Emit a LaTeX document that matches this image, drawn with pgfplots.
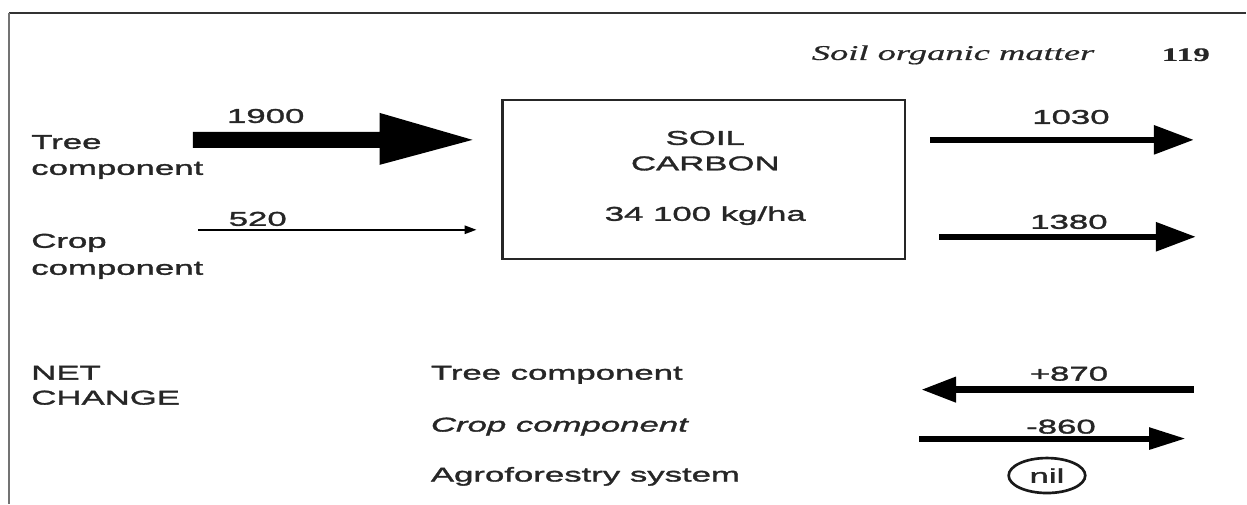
\documentclass[border=0pt]{standalone}
\usepackage{fontspec}
\setmainfont{Liberation Sans}[FakeStretch=1.74,FakeBold=1.6]
\newfontfamily\hdrfont{Liberation Serif}[FakeStretch=1.74,FakeBold=0.6]
\usepackage{pgfplots}
\pgfplotsset{compat=1.18}
\usetikzlibrary{arrows.meta,shapes.geometric}
\tikzset{lbl/.style={font=\fontsize{12}{14}\selectfont, text=black!85, inner sep=0pt}}

\begin{document}
\begin{tikzpicture}
\begin{axis}[
  width=748.2pt, height=302.4pt, scale only axis,
  xmin=0, xmax=1247, ymin=0, ymax=504, y dir=reverse,
  hide axis, clip=false, no marks,
]
% invisible corners to fix the bounding box
\addplot[draw=none] coordinates {(0,0) (1247,504)};

% frame
\addplot[black!80, line width=1.5pt] coordinates {(9,13) (1247,13)};
\addplot[black!55, line width=1.2pt] coordinates {(9,13) (9,504)};

% header
\node[lbl, anchor=base, font=\hdrfont\itshape\fontsize{12.6}{14}\selectfont] at (axis cs:954,60) {Soil organic matter};
\node[lbl, anchor=base, font=\hdrfont\bfseries\fontsize{11.5}{14}\selectfont] at (axis cs:1187,61) {119};

% soil carbon box
\addplot[black!85, line width=1.3pt] coordinates {(503,100) (906,100) (906,259) (503,259)} --cycle;
\node[lbl, anchor=base] at (axis cs:706,145) {SOIL};
\node[lbl, anchor=base] at (axis cs:706,170.5) {CARBON};
\node[lbl, anchor=base] at (axis cs:706,221) {34 100 kg/ha};

% inputs
\node[lbl, anchor=base west] at (axis cs:31,149) {Tree};
\node[lbl, anchor=base west] at (axis cs:31,175) {component};
\node[lbl, anchor=base west] at (axis cs:31,248) {Crop};
\node[lbl, anchor=base west] at (axis cs:31,275) {component};

\addplot[fill=black, draw=none] coordinates {(193,132) (380,132) (380,113) (473,140) (380,165) (380,148) (193,148)} --cycle;
\node[lbl, anchor=base] at (axis cs:266,123) {1900};

\addplot[black, line width=1.2pt, -{Triangle[length=7.2pt,width=5pt]}] coordinates {(198,230) (477,230)};
\node[lbl, anchor=base] at (axis cs:258,226) {520};

% outputs
\addplot[black, line width=3.6pt, -{Triangle[length=24pt,width=16.8pt]}] coordinates {(931,140) (1195,140)};
\node[lbl, anchor=base] at (axis cs:1072,124) {1030};
\addplot[black, line width=3.6pt, -{Triangle[length=24pt,width=16.8pt]}] coordinates {(940,237) (1197,237)};
\node[lbl, anchor=base] at (axis cs:1070,229) {1380};

% net change
\node[lbl, anchor=base west] at (axis cs:31,380) {NET};
\node[lbl, anchor=base west] at (axis cs:31,405) {CHANGE};
\node[lbl, anchor=base west] at (axis cs:431,380) {Tree component};
\node[lbl, anchor=base west, font=\itshape\fontsize{12}{14}\selectfont] at (axis cs:431,432) {Crop component};
\node[lbl, anchor=base west] at (axis cs:431,482) {Agroforestry system};

\addplot[black, line width=4.2pt, {Triangle[length=21pt,width=14.4pt]}-] coordinates {(922,390) (1195,390)};
\node[lbl, anchor=base] at (axis cs:1070,381) {+870};
\addplot[black, line width=3.6pt, -{Triangle[length=22pt,width=12.5pt]}] coordinates {(920,439) (1187,439)};
\node[lbl, anchor=base] at (axis cs:1062,434) {-860};

\node[lbl, draw=black!90, line width=1.6pt, ellipse, minimum width=46pt, minimum height=21pt] at (axis cs:1048,476) {nil};
\end{axis}
\end{tikzpicture}
\end{document}
